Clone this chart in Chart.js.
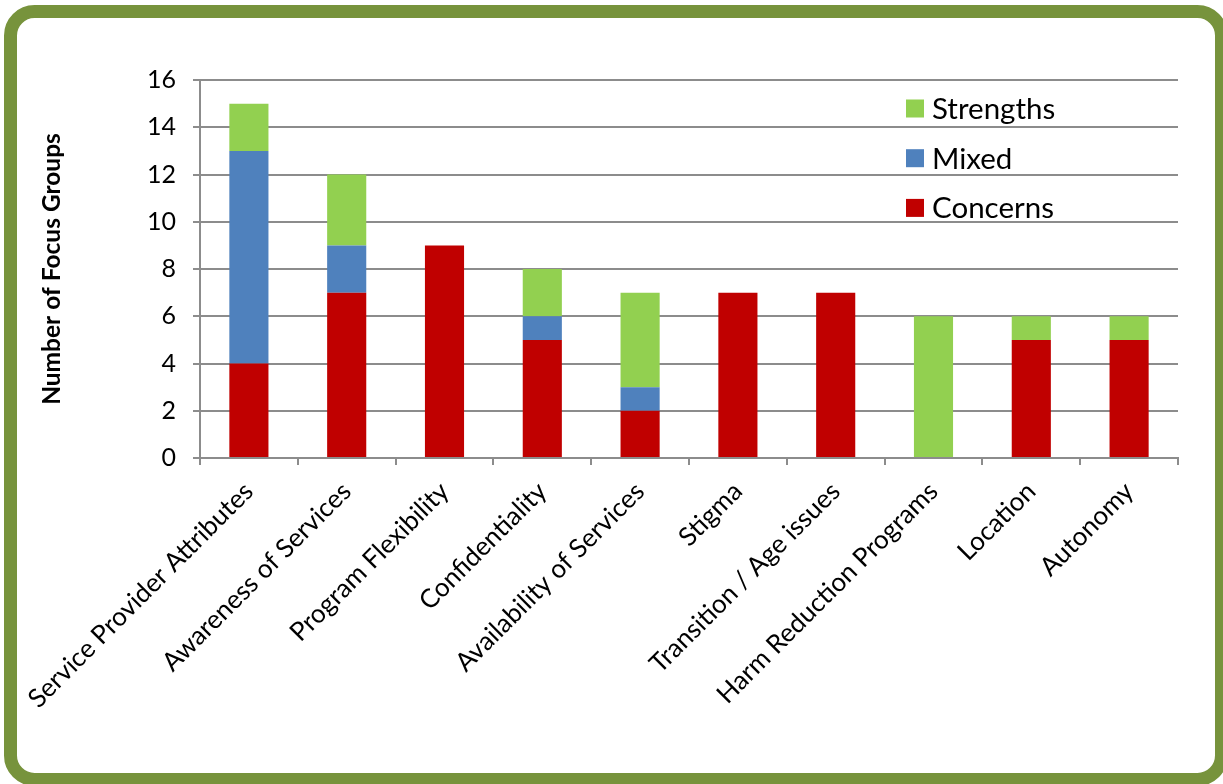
<!DOCTYPE html>
<html>
<head>
<meta charset="utf-8">
<script src="https://cdn.jsdelivr.net/npm/chart.js@4.4.1/dist/chart.umd.min.js"></script>
<style>
  html, body { margin: 0; padding: 0; background: #fff; overflow: hidden; }
  canvas { display: block; }
</style>
</head>
<body>
<canvas id="c" width="1223" height="784"></canvas>
<script>
// Topics raised in the focus groups
const categories = [
  'Service Provider Attributes', 'Awareness of Services', 'Program Flexibility',
  'Confidentiality', 'Availability of Services', 'Stigma', 'Transition / Age issues',
  'Harm Reduction Programs', 'Location', 'Autonomy'
];
// Number of focus groups per topic, by tone
const concerns  = [4, 7, 9, 5, 2, 7, 7, 0, 5, 5];
const mixed     = [9, 2, 0, 1, 1, 0, 0, 0, 0, 0];
const strengths = [2, 3, 0, 2, 4, 0, 0, 6, 1, 1];
const seriesNames = ['Concerns', 'Mixed', 'Strengths'];
const yMin = 0, yMax = 16, yStep = 2;
const yTitle = 'Number of Focus Groups';

const FONT = 'Lato, "Open Sans", sans-serif';
const GRID = '#8c8c8c';

// Rounded green frame behind the chart
const framePlugin = {
  id: 'frame',
  beforeDraw(chart) {
    const ctx = chart.ctx;
    ctx.save();
    ctx.fillStyle = '#fff';
    ctx.fillRect(0, 0, chart.width, chart.height);
    ctx.strokeStyle = '#77933C';
    ctx.lineWidth = 13;
    ctx.beginPath();
    ctx.roundRect(10.5, 11.5, 1211, 768, 24);
    ctx.stroke();
    ctx.restore();
  }
};

// Legend inside the plot, top-right, listed top series first
const legendPlugin = {
  id: 'insetLegend',
  afterDraw(chart) {
    const ctx = chart.ctx;
    const ds = chart.data.datasets;
    ctx.save();
    ctx.font = '29.5px ' + FONT;
    ctx.textBaseline = 'middle';
    ctx.textAlign = 'left';
    [2, 1, 0].forEach((di, i) => {
      const y = 108.5 + i * 49.7;
      ctx.fillStyle = ds[di].backgroundColor;
      ctx.fillRect(906, y - 9, 18, 18);
      ctx.fillStyle = '#000';
      ctx.fillText(ds[di].label, 932, y + 1);
    });
    ctx.restore();
  }
};

new Chart(document.getElementById('c'), {
  type: 'bar',
  data: {
    labels: categories,
    datasets: [
      { label: seriesNames[0], data: concerns,  backgroundColor: '#C00000' },
      { label: seriesNames[1], data: mixed,     backgroundColor: '#4F81BD' },
      { label: seriesNames[2], data: strengths, backgroundColor: '#92D050' }
    ]
  },
  options: {
    responsive: false,
    animation: false,
    layout: { padding: { top: 80, left: 0, right: 45, bottom: 0 } },
    datasets: { bar: { barPercentage: 0.4, categoryPercentage: 1.0, borderWidth: 0 } },
    plugins: { legend: { display: false }, tooltip: { enabled: false } },
    scales: {
      x: {
        stacked: true,
        grid: { display: true, drawOnChartArea: false, drawTicks: true, tickLength: 7, color: GRID, lineWidth: 2, offset: true },
        border: { display: true, color: GRID, width: 2 },
        ticks: {
          autoSkip: false, minRotation: 45, maxRotation: 45, padding: 11,
          color: '#000', font: { family: FONT, size: 26 }
        },
        afterFit(s) { s.height = 326; s.paddingLeft = 0; s.paddingRight = 0; }
      },
      y: {
        stacked: true,
        min: yMin, max: yMax,
        grid: { color: GRID, lineWidth: 2, tickLength: 7, drawTicks: true },
        border: { display: true, color: GRID, width: 2 },
        ticks: { stepSize: yStep, padding: 17, color: '#000', font: { family: FONT, size: 25 } },
        title: {
          display: true, text: yTitle, color: '#000',
          font: { family: FONT, size: 24.5, weight: 'bold' },
          padding: { top: 37, bottom: 0 }
        },
        afterFit(s) { s.width = 200; }
      }
    }
  },
  plugins: [framePlugin, legendPlugin]
});
</script>
</body>
</html>
